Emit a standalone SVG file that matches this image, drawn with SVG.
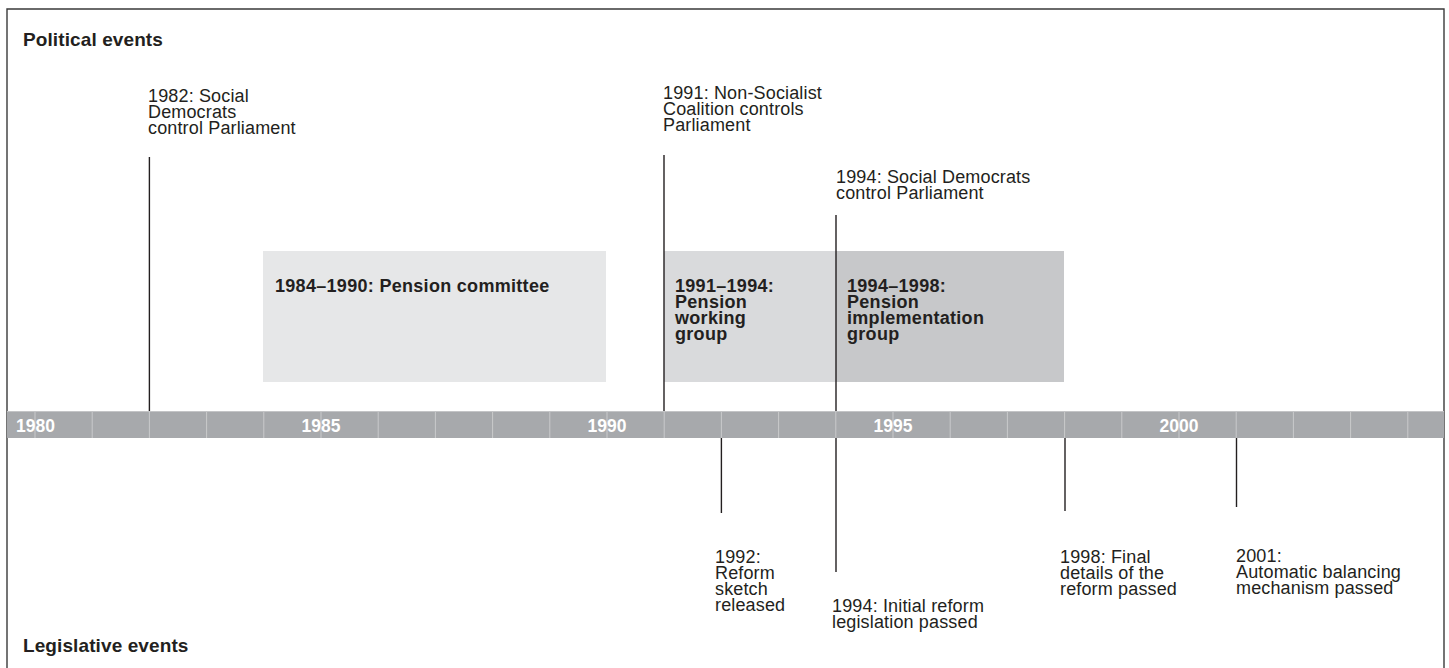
<svg xmlns="http://www.w3.org/2000/svg" width="1449" height="668" viewBox="0 0 1449 668">
  <style>
    text { font-family: "Liberation Sans", Arial, sans-serif; font-size: 18px; fill: #231f20; letter-spacing: 0.15px; }
    .bold { font-weight: bold; letter-spacing: 0.3px; }
    .heading { font-weight: bold; font-size: 19px; letter-spacing: 0.1px; }
    .year { font-weight: bold; fill: #ffffff; font-size: 17.5px; text-anchor: middle; letter-spacing: 0; }
    .frame { fill: none; stroke: #3a3a3a; stroke-width: 1.4; }
    .event { stroke: #231f20; stroke-width: 1.4; fill: none; }
    .tick { stroke: #c9cacc; stroke-width: 1; }
  </style>

  <rect x="0" y="0" width="1449" height="668" fill="#ffffff"/>

  <!-- outer frame: top, left and right sides -->
  <path class="frame" d="M7,668 V9 H1444 V668"/>

  <!-- section headings -->
  <text class="heading" x="23" y="45.5">Political events</text>
  <text class="heading" x="23" y="652">Legislative events</text>

  <!-- committee periods -->
  <g id="pension-committee">
    <rect x="263" y="251" width="343" height="131" fill="#e6e7e8"/>
    <text class="bold" x="275" y="292">1984–1990: Pension committee</text>
  </g>
  <g id="pension-working-group">
    <rect x="664" y="251" width="172" height="131" fill="#d9dadc"/>
    <text class="bold"><tspan x="675" y="292">1991–1994:</tspan><tspan x="675" y="308">Pension</tspan><tspan x="675" y="324">working</tspan><tspan x="675" y="340">group</tspan></text>
  </g>
  <g id="pension-implementation-group">
    <rect x="836" y="251" width="228" height="131" fill="#c7c8ca"/>
    <text class="bold"><tspan x="847" y="292">1994–1998:</tspan><tspan x="847" y="308">Pension</tspan><tspan x="847" y="324">implementation</tspan><tspan x="847" y="340">group</tspan></text>
  </g>

  <!-- timeline axis -->
  <g id="timeline">
    <rect x="7" y="411" width="1437" height="27" fill="#a7a9ac"/>
    <line x1="7" y1="411.5" x2="1444" y2="411.5" stroke="#c3c4c6" stroke-width="1"/>
    <g class="tick">
      <line x1="35" y1="412" x2="35" y2="438"/>
      <line x1="92.2" y1="412" x2="92.2" y2="438"/>
      <line x1="149.4" y1="412" x2="149.4" y2="438"/>
      <line x1="206.6" y1="412" x2="206.6" y2="438"/>
      <line x1="263.8" y1="412" x2="263.8" y2="438"/>
      <line x1="321" y1="412" x2="321" y2="438"/>
      <line x1="378.2" y1="412" x2="378.2" y2="438"/>
      <line x1="435.4" y1="412" x2="435.4" y2="438"/>
      <line x1="492.6" y1="412" x2="492.6" y2="438"/>
      <line x1="549.8" y1="412" x2="549.8" y2="438"/>
      <line x1="607" y1="412" x2="607" y2="438"/>
      <line x1="664.2" y1="412" x2="664.2" y2="438"/>
      <line x1="721.4" y1="412" x2="721.4" y2="438"/>
      <line x1="778.6" y1="412" x2="778.6" y2="438"/>
      <line x1="835.8" y1="412" x2="835.8" y2="438"/>
      <line x1="893" y1="412" x2="893" y2="438"/>
      <line x1="950.2" y1="412" x2="950.2" y2="438"/>
      <line x1="1007.4" y1="412" x2="1007.4" y2="438"/>
      <line x1="1064.6" y1="412" x2="1064.6" y2="438"/>
      <line x1="1121.8" y1="412" x2="1121.8" y2="438"/>
      <line x1="1179" y1="412" x2="1179" y2="438"/>
      <line x1="1236.2" y1="412" x2="1236.2" y2="438"/>
      <line x1="1293.4" y1="412" x2="1293.4" y2="438"/>
      <line x1="1350.6" y1="412" x2="1350.6" y2="438"/>
      <line x1="1407.8" y1="412" x2="1407.8" y2="438"/>
    </g>
    <text class="year" x="35.5" y="431.5">1980</text>
    <text class="year" x="321" y="431.5">1985</text>
    <text class="year" x="607" y="431.5">1990</text>
    <text class="year" x="893" y="431.5">1995</text>
    <text class="year" x="1179" y="431.5">2000</text>
  </g>

  <!-- event markers -->
  <g id="connectors">
    <line class="event" x1="149.4" y1="157" x2="149.4" y2="411"/>
    <line class="event" x1="664" y1="155" x2="664" y2="411"/>
    <line class="event" x1="836" y1="215" x2="836" y2="411"/>
    <line class="event" x1="836" y1="438" x2="836" y2="572"/>
    <line class="event" x1="721.4" y1="438" x2="721.4" y2="513"/>
    <line class="event" x1="1065" y1="438" x2="1065" y2="511"/>
    <line class="event" x1="1236.5" y1="438" x2="1236.5" y2="507"/>
  </g>

  <!-- political events -->
  <g id="event-1982">
    <text><tspan x="148" y="102">1982: Social</tspan><tspan x="148" y="118">Democrats</tspan><tspan x="148" y="134">control Parliament</tspan></text>
  </g>
  <g id="event-1991">
    <text><tspan x="663" y="99">1991: Non-Socialist</tspan><tspan x="663" y="115">Coalition controls</tspan><tspan x="663" y="131">Parliament</tspan></text>
  </g>
  <g id="event-1994-political">
    <text><tspan x="836" y="183">1994: Social Democrats</tspan><tspan x="836" y="199">control Parliament</tspan></text>
  </g>

  <!-- legislative events -->
  <g id="event-1992">
    <text><tspan x="715" y="563">1992:</tspan><tspan x="715" y="579">Reform</tspan><tspan x="715" y="595">sketch</tspan><tspan x="715" y="611">released</tspan></text>
  </g>
  <g id="event-1994-legislative">
    <text><tspan x="832" y="612">1994: Initial reform</tspan><tspan x="832" y="628">legislation passed</tspan></text>
  </g>
  <g id="event-1998">
    <text><tspan x="1060" y="563">1998: Final</tspan><tspan x="1060" y="579">details of the</tspan><tspan x="1060" y="595">reform passed</tspan></text>
  </g>
  <g id="event-2001">
    <text><tspan x="1236" y="562">2001:</tspan><tspan x="1236" y="578">Automatic balancing</tspan><tspan x="1236" y="594">mechanism passed</tspan></text>
  </g>
</svg>
